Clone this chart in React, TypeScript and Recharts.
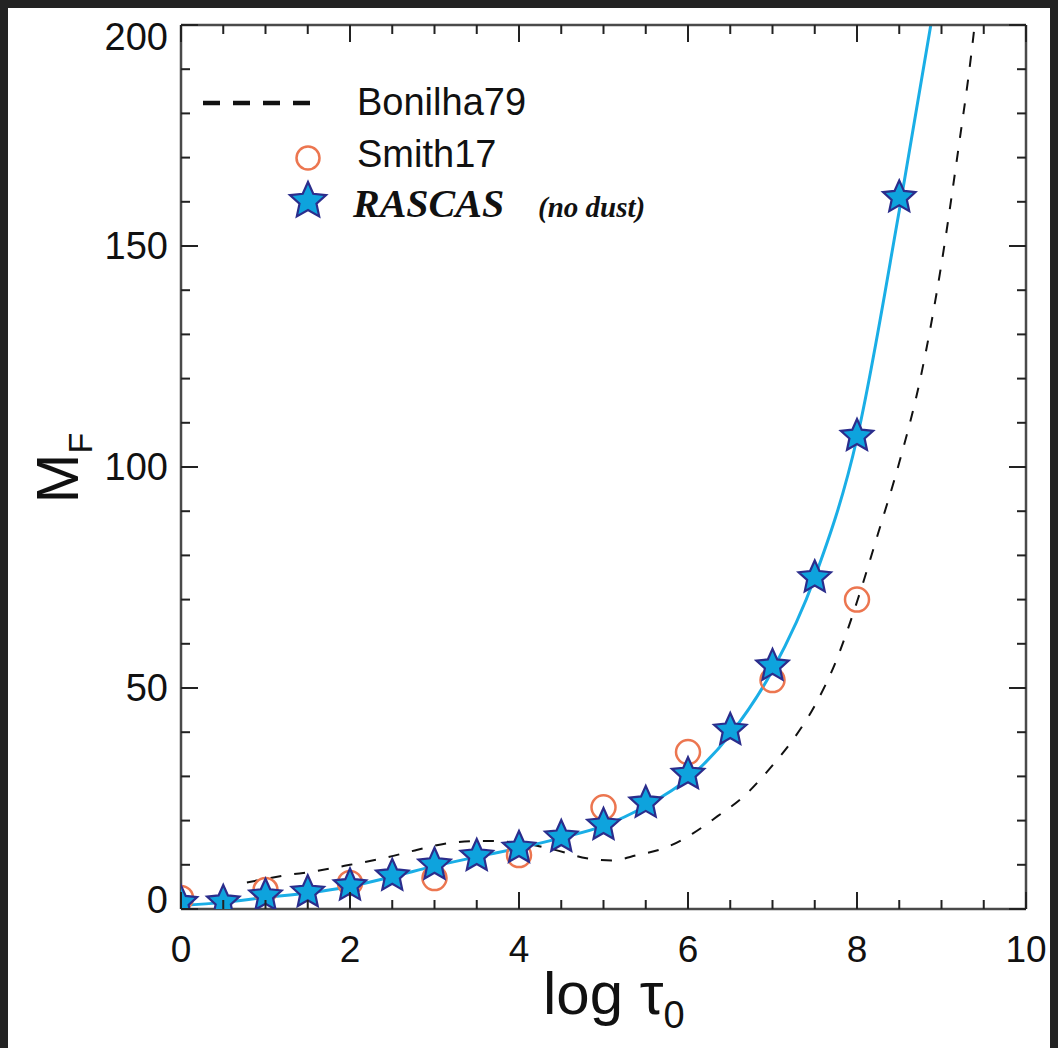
import React from 'react';
import { ComposedChart, Line, Scatter, XAxis, YAxis, Label } from 'recharts';

// axis ticks
const X_TICKS = [0, 0.5, 1, 1.5, 2, 2.5, 3, 3.5, 4, 4.5, 5, 5.5, 6, 6.5, 7, 7.5, 8, 8.5, 9, 9.5, 10];
const X_LABELS = [0, 2, 4, 6, 8, 10];
const Y_TICKS = [0, 10, 20, 30, 40, 50, 60, 70, 80, 90, 100, 110, 120, 130, 140, 150, 160, 170, 180, 190, 200];
const Y_LABELS = [0, 50, 100, 150, 200];

// RASCAS (no dust) stars
const rascasLogTau = [0, 0.5, 1, 1.5, 2, 2.5, 3, 3.5, 4, 4.5, 5, 5.5, 6, 6.5, 7, 7.5, 8, 8.5];
const rascasMF = [1.5, 1.6, 3.0, 3.8, 5.3, 7.5, 10, 12, 13.8, 16.3, 19, 24, 30.5, 40.5, 55, 75, 107, 161];

// RASCAS curve
const curveLogTau = [0, 0.5, 1, 1.5, 2, 2.5, 3, 3.5, 4, 4.5, 5, 5.5, 6, 6.5, 7, 7.5, 8, 8.5, 8.9];
const curveMF = [0.8, 1.5, 2.6, 3.6, 5.1, 7.3, 9.7, 11.8, 13.8, 16.1, 18.8, 23.3, 29.5, 39.5, 54, 75, 106.5, 158, 203];

// Smith17 circles
const smithLogTau = [0, 1, 2, 3, 4, 5, 6, 7, 8];
const smithMF = [2.5, 4.3, 5.9, 7, 12.2, 23, 35.5, 51.8, 70];

// Bonilha79 dashed
const bonilhaLogTau = [0.78, 1.2, 1.6, 2, 2.4, 2.8, 3.2, 3.6, 4, 4.4, 4.8, 5.1, 5.4, 5.75, 6.05, 6.35, 6.65, 7, 7.25, 7.5, 7.75, 8, 8.25, 8.5, 8.75, 9, 9.2, 9.35, 9.45];
const bonilhaMF = [6, 7.5, 8.6, 10, 11.5, 13.4, 15, 15.4, 15, 13.5, 11.5, 11, 12.2, 14, 17, 21, 25.3, 32.5, 38.5, 46, 56, 69.5, 85, 101, 120, 146, 172, 193, 210];

const toPts = (xs: number[], ys: number[]) => xs.map((x, i) => ({ x, y: ys[i] }));

const rascasData = toPts(rascasLogTau, rascasMF);
const curveData = toPts(curveLogTau, curveMF);
const smithData = toPts(smithLogTau, smithMF);
const bonilhaData = toPts(bonilhaLogTau, bonilhaMF);

const W = 1050;
const H = 1040;
const SANS = '"Liberation Sans", Arial, Helvetica, sans-serif';
const SERIF = '"Liberation Serif", "Times New Roman", serif';
const AXIS_COLOR = '#4a4a4a';
const TICK_COLOR = '#222';
const STAR_FILL = '#0ea3dd';
const STAR_EDGE = '#2b2d8c';
const CIRCLE_COLOR = '#ec7650';
const CURVE_COLOR = '#1aaee6';

const starPath = (cx: number, cy: number, R: number) => {
  const r = R * 0.47;
  let d = '';
  for (let i = 0; i < 10; i++) {
    const rad = i % 2 === 0 ? R : r;
    const a = -Math.PI / 2 + (i * Math.PI) / 5;
    d += (i === 0 ? 'M' : 'L') + (cx + rad * Math.cos(a)).toFixed(2) + ',' + (cy + rad * Math.sin(a)).toFixed(2);
  }
  return d + 'Z';
};

const StarShape = (props: any) => {
  const { cx, cy } = props;
  if (cx == null || cy == null) return null;
  return <path d={starPath(cx, cy, 17)} fill={STAR_FILL} stroke={STAR_EDGE} strokeWidth={2.2} />;
};

const CircleShape = (props: any) => {
  const { cx, cy } = props;
  if (cx == null || cy == null) return null;
  return <circle cx={cx} cy={cy} r={12} fill="none" stroke={CIRCLE_COLOR} strokeWidth={2.5} />;
};

const BottomTick = ({ x, y, payload }: any) => {
  const major = X_LABELS.includes(payload.value);
  return (
    <g>
      <line x1={x} x2={x} y1={y} y2={y - (major ? 17 : 9)} stroke={TICK_COLOR} strokeWidth={2} />
      {major && (
        <text x={x} y={y + 53} textAnchor="middle" fontSize={37} fontFamily={SANS} fill="#111">
          {payload.value}
        </text>
      )}
    </g>
  );
};

const TopTick = ({ x, y, payload }: any) => {
  const major = X_LABELS.includes(payload.value);
  return <line x1={x} x2={x} y1={y} y2={y + (major ? 17 : 9)} stroke={TICK_COLOR} strokeWidth={2} />;
};

const LeftTick = ({ x, y, payload }: any) => {
  const v = payload.value;
  const major = Y_LABELS.includes(v);
  const shift = v === 200 ? 12 : v === 0 ? -9 : 0;
  return (
    <g>
      <line x1={x} x2={x + (major ? 17 : 9)} y1={y} y2={y} stroke={TICK_COLOR} strokeWidth={2} />
      {major && (
        <text x={x - 13} y={y + 13 + shift} textAnchor="end" fontSize={38} fontFamily={SANS} fill="#111">
          {v}
        </text>
      )}
    </g>
  );
};

const RightTick = ({ x, y, payload }: any) => {
  const major = Y_LABELS.includes(payload.value);
  return <line x1={x} x2={x - (major ? 17 : 9)} y1={y} y2={y} stroke={TICK_COLOR} strokeWidth={2} />;
};

const XTitle = ({ viewBox }: any) => {
  const { x, y } = viewBox;
  return (
    <text x={x + 362} y={y + 105} fontSize={60} fontFamily={SANS} fill="#111">
      log τ
      <tspan dy={14} fontSize={38}>0</tspan>
    </text>
  );
};

const YTitle = () => {
  const cx = 70;
  const cy = 460;
  return (
    <text x={cx} y={cy} transform={`rotate(-90, ${cx}, ${cy})`} textAnchor="middle" fontSize={60} fontFamily={SANS} fill="#111">
      M
      <tspan dy={14} fontSize={34}>F</tspan>
    </text>
  );
};

const LegendOverlay = () => (
  <svg width={W} height={H} style={{ position: 'absolute', left: 0, top: 0, pointerEvents: 'none' }}>
    <line x1={195} x2={302} y1={95} y2={95} stroke="#111" strokeWidth={4.5} strokeDasharray="17 13" />
    <text x={349} y={107} fontSize={38} fontFamily={SANS} fill="#111">Bonilha79</text>
    <circle cx={300} cy={150} r={11.5} fill="none" stroke={CIRCLE_COLOR} strokeWidth={2.5} />
    <text x={349} y={159} fontSize={38} fontFamily={SANS} fill="#111">Smith17</text>
    <path d={starPath(300, 193, 19)} fill={STAR_FILL} stroke={STAR_EDGE} strokeWidth={2.2} />
    <text x={345} y={209} fontSize={40} fontFamily={SERIF} fontWeight="bold" fontStyle="italic" fill="#111">RASCAS</text>
    <text x={530} y={209} fontSize={29} fontFamily={SERIF} fontWeight="bold" fontStyle="italic" fill="#111">(no dust)</text>
  </svg>
);

export default function App() {
  return (
    <div style={{ position: 'relative', width: W, height: H, background: '#fff' }}>
      <style>{'body{background:#232323;}'}</style>
      <ComposedChart width={W} height={H} margin={{ top: 16, right: 31, bottom: 0, left: 0 }}>
        <XAxis
          xAxisId="b"
          dataKey="x"
          type="number"
          domain={[0, 10]}
          allowDataOverflow
          ticks={X_TICKS}
          interval={0}
          height={139}
          tickSize={0}
          tickMargin={0}
          tickLine={false}
          tick={<BottomTick />}
          axisLine={{ stroke: AXIS_COLOR, strokeWidth: 2.5 }}
        >
          <Label content={<XTitle />} />
        </XAxis>
        <XAxis
          xAxisId="t"
          dataKey="x"
          orientation="top"
          type="number"
          domain={[0, 10]}
          allowDataOverflow
          ticks={X_TICKS}
          interval={0}
          height={1}
          tickSize={0}
          tickMargin={0}
          tickLine={false}
          tick={<TopTick />}
          axisLine={{ stroke: AXIS_COLOR, strokeWidth: 2.5 }}
        />
        <YAxis
          yAxisId="l"
          type="number"
          domain={[0, 200]}
          allowDataOverflow
          ticks={Y_TICKS}
          interval={0}
          width={173}
          tickSize={0}
          tickMargin={0}
          tickLine={false}
          tick={<LeftTick />}
          axisLine={{ stroke: AXIS_COLOR, strokeWidth: 2.5 }}
        >
          <Label content={<YTitle />} />
        </YAxis>
        <YAxis
          yAxisId="r"
          orientation="right"
          type="number"
          domain={[0, 200]}
          allowDataOverflow
          ticks={Y_TICKS}
          interval={0}
          width={1}
          tickSize={0}
          tickMargin={0}
          tickLine={false}
          tick={<RightTick />}
          axisLine={{ stroke: AXIS_COLOR, strokeWidth: 2.5 }}
        />
        <Line
          xAxisId="b"
          yAxisId="l"
          data={bonilhaData}
          dataKey="y"
          type="monotone"
          stroke="#111"
          strokeWidth={2}
          strokeDasharray="11 13"
          dot={false}
          isAnimationActive={false}
        />
        <Line
          xAxisId="b"
          yAxisId="l"
          data={curveData}
          dataKey="y"
          type="monotone"
          stroke={CURVE_COLOR}
          strokeWidth={3}
          dot={false}
          isAnimationActive={false}
        />
        <Scatter
          xAxisId="b"
          yAxisId="l"
          data={smithData}
          dataKey="y"
          shape={<CircleShape />}
          isAnimationActive={false}
        />
        <Scatter
          xAxisId="b"
          yAxisId="l"
          data={rascasData}
          dataKey="y"
          shape={<StarShape />}
          isAnimationActive={false}
        />
      </ComposedChart>
      <LegendOverlay />
    </div>
  );
}
